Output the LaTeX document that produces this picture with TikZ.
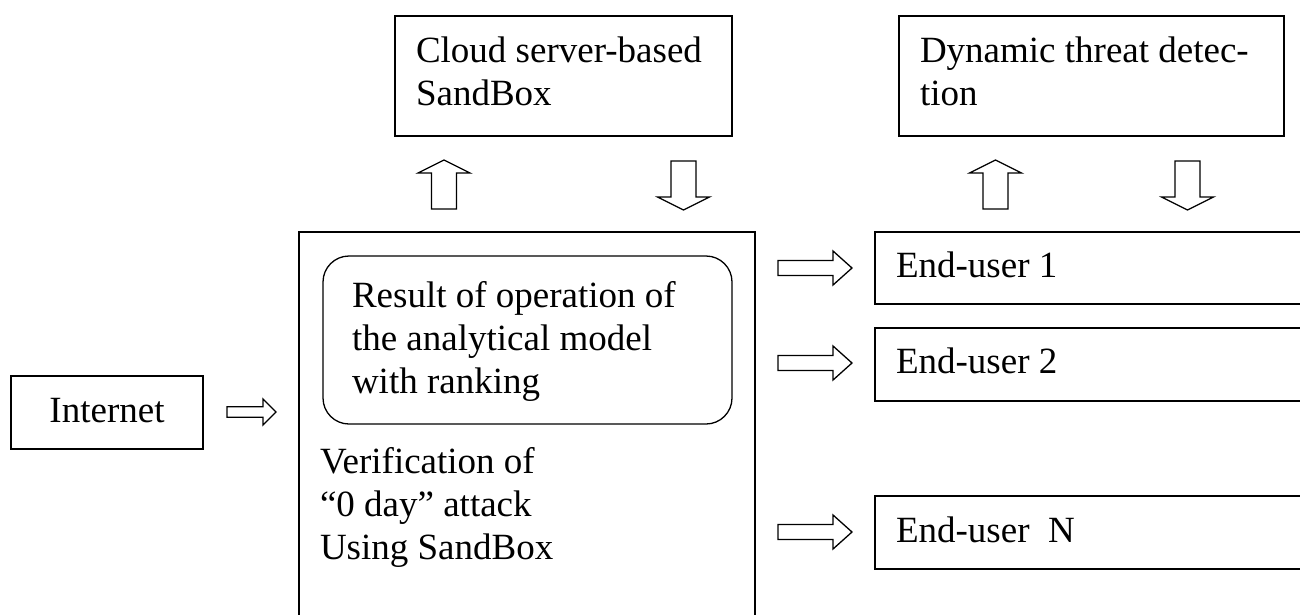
\documentclass[tikz,border=0pt]{standalone}
\usepackage{fontspec}
\setmainfont{Liberation Serif}
\newcommand\btext[4]{\parbox[c][#1][t]{#2}{\raggedright\rule{0pt}{#3}\ignorespaces #4}}
\newcommand\ctext[4]{\parbox[c][#1][t]{#2}{\centering\rule{0pt}{#3}\ignorespaces #4}}
\tikzset{
  txt/.style={font=\fontsize{37pt}{43pt}\selectfont},
  box/.style={txt, draw, line width=1.3pt, inner xsep=21pt, inner ysep=0pt,
              outer sep=0pt, anchor=north west},
  roundbox/.style={box, inner xsep=29pt, rounded corners=26pt},
  arrowline/.style={draw, line width=1.3pt, fill=white, line join=miter},
  pics/barrow/.style n args={4}{code={
    \path[arrowline] (0,-#2) -- (#1-#4,-#2) -- (#1-#4,-#3) -- (#1,0)
      -- (#1-#4,#3) -- (#1-#4,#2) -- (0,#2) -- cycle;
  }}
}
\begin{document}
\begin{tikzpicture}[x=1pt,y=1pt]
\useasboundingbox (0,0) rectangle (1300,-614);
\clip (0,0) rectangle (1300,-614);

% top boxes
\node[box] (cloud) at (395,-16) {\btext{120pt}{295pt}{46pt}{Cloud server-based\\SandBox}};
\node[box] (dyn) at (899,-16) {\btext{120pt}{343pt}{46pt}{Dynamic threat detec-\\tion}};

% main box
\node[box] (main) at (299,-232) {\btext{420pt}{414pt}{241pt}{Verification of\\“0 day” attack\\Using SandBox}};
\node[roundbox] (result) at (323,-256) {\btext{168pt}{351pt}{51pt}{Result of operation of\\the analytical model\\with ranking}};

% internet
\node[box] (inet) at (11,-376) {\ctext{73pt}{150pt}{46pt}{Internet}};

% end users
\node[box] (eu1) at (875,-232) {\btext{72pt}{458pt}{45pt}{End-user 1}};
\node[box] (eu2) at (875,-328) {\btext{73pt}{458pt}{45pt}{End-user 2}};
\node[box] (euN) at (875,-496) {\btext{73pt}{458pt}{46pt}{End-user~~N}};

% block arrows
\pic (ainet) at (227,-412) {barrow={49}{5.3}{13}{13}};
\pic (aeu1) at (778,-268) {barrow={74}{7.5}{17}{19}};
\pic (aeu2) at (778,-363) {barrow={74}{7.5}{17}{19}};
\pic (aeuN) at (778,-532) {barrow={74}{7.5}{17}{19}};
\pic[rotate=90] (up1) at (444,-209) {barrow={49}{12.5}{26}{13}};
\pic[rotate=-90] (down1) at (683.5,-161) {barrow={49}{12.5}{26}{13}};
\pic[rotate=90] (up2) at (995.5,-209) {barrow={49}{12.5}{26}{13}};
\pic[rotate=-90] (down2) at (1187.5,-161) {barrow={49}{12.5}{26}{13}};
\end{tikzpicture}
\end{document}
